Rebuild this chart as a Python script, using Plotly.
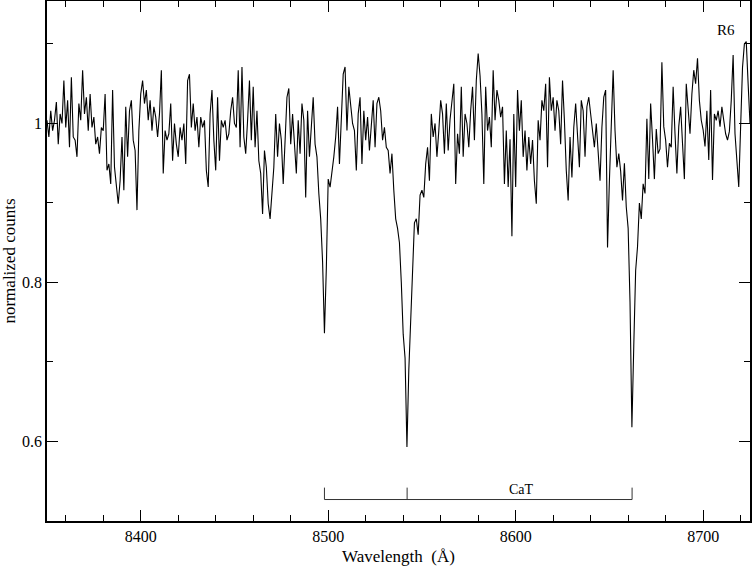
import plotly.graph_objects as go

wavelength = list(range(8350, 8726))
flux = [
    1.004, 0.983, 1.016, 0.991, 1.004, 1.027, 0.974, 1.012, 1.000, 1.054,
    0.995, 1.029, 0.970, 1.058, 0.983, 0.979, 0.958, 1.025, 1.004, 1.067,
    1.012, 1.033, 0.991, 1.037, 0.995, 1.008, 0.974, 0.983, 0.962, 0.995,
    0.991, 1.037, 0.941, 0.949, 0.924, 1.042, 0.945, 0.920, 0.899, 0.928,
    0.983, 0.916, 1.021, 0.958, 1.016, 1.029, 0.979, 0.966, 0.891, 0.991,
    1.037, 1.054, 1.025, 1.042, 1.004, 1.029, 0.991, 1.021, 1.008, 0.983,
    1.012, 1.067, 0.937, 0.991, 0.979, 0.987, 1.025, 0.953, 1.000, 0.974,
    0.958, 0.995, 0.979, 1.000, 0.949, 1.054, 1.062, 0.995, 1.025, 0.991,
    1.008, 0.970, 1.008, 0.995, 1.004, 0.941, 0.920, 1.012, 1.042, 0.979,
    0.941, 1.033, 0.953, 1.004, 0.995, 1.004, 0.979, 0.987, 1.016, 1.033,
    1.000, 0.995, 1.067, 0.970, 1.071, 0.983, 0.962, 1.004, 1.054, 0.979,
    1.046, 0.970, 1.016, 0.953, 0.937, 0.886, 0.966, 0.945, 0.899, 0.880,
    0.920, 0.945, 1.012, 0.958, 1.000, 0.979, 0.924, 0.983, 1.033, 1.044,
    0.974, 1.012, 0.979, 0.937, 1.004, 0.962, 1.025, 1.004, 0.907, 1.016,
    0.958, 0.991, 1.033, 0.974, 0.958, 0.912, 0.880, 0.826, 0.736, 0.818,
    0.930, 0.920, 0.937, 0.958, 0.983, 1.021, 0.949, 1.016, 1.062, 1.071,
    0.991, 1.046, 1.021, 1.000, 0.991, 0.941, 1.012, 1.033, 0.949, 1.016,
    0.979, 1.008, 0.966, 0.995, 1.029, 0.970, 1.025, 1.033, 1.016, 0.979,
    0.995, 0.970, 0.966, 0.937, 0.962, 0.916, 0.880, 0.868, 0.850, 0.800,
    0.735, 0.705, 0.593, 0.690, 0.745, 0.800, 0.875, 0.880, 0.860, 0.910,
    0.916, 0.907, 0.949, 0.970, 0.928, 1.012, 0.983, 1.000, 0.958, 0.991,
    1.029, 1.012, 0.962, 1.025, 0.966, 1.005, 1.033, 1.050, 0.924, 0.987,
    0.962, 1.046, 0.958, 1.012, 1.000, 0.970, 1.016, 1.046, 0.979, 1.054,
    1.088, 1.060, 1.012, 0.924, 1.046, 0.991, 1.008, 0.970, 1.067, 1.004,
    1.042, 1.029, 1.008, 1.021, 0.924, 0.991, 0.920, 0.980, 0.858, 1.012,
    0.920, 1.042, 0.991, 1.029, 0.958, 0.991, 0.941, 0.983, 0.949, 0.979,
    0.928, 0.899, 1.004, 0.979, 1.029, 1.016, 1.050, 0.945, 1.058, 1.016,
    1.033, 0.991, 1.029, 1.016, 0.974, 1.054, 1.004, 0.941, 0.903, 0.983,
    0.932, 0.995, 1.025, 0.983, 0.945, 1.029, 1.016, 0.958, 1.021, 1.033,
    1.012, 0.995, 0.970, 1.000, 0.958, 0.928, 0.995, 1.033, 1.042, 0.844,
    0.928, 1.000, 1.067, 0.991, 0.945, 0.962, 0.940, 0.903, 0.950, 0.895,
    0.868, 0.775, 0.618, 0.720, 0.815, 0.845, 0.900, 0.880, 0.924, 0.912,
    1.006, 0.930, 1.025, 0.980, 0.930, 0.993, 0.962, 0.968, 1.077, 0.996,
    0.979, 0.945, 0.975, 0.970, 1.046, 0.987, 0.937, 0.996, 1.021, 0.975,
    0.930, 1.050, 1.012, 0.987, 1.037, 1.067, 1.050, 1.082, 1.029, 1.004,
    0.992, 0.971, 1.016, 0.954, 1.042, 0.929, 1.012, 1.004, 1.016, 0.996,
    1.021, 1.000, 0.987, 0.979, 0.990, 1.029, 1.086, 0.987, 0.945, 0.920,
    0.996, 1.070, 1.100, 1.103, 1.050, 1.000,
]
assert len(flux) == len(wavelength)

# Ca II triplet lines marked under the spectrum
cat_lines = [8498.0, 8542.1, 8662.1]
cat_label = "CaT"
star_label = "R6"

SERIF = "Liberation Serif, Times New Roman, serif"
bar_lo, bar_hi = 0.527, 0.542

# bracket: horizontal bar with an upward tick at each line
bx, by = [cat_lines[0], cat_lines[-1], None], [bar_lo, bar_lo, None]
for w in cat_lines:
    bx += [w, w, None]
    by += [bar_lo, bar_hi, None]

fig = go.Figure()
fig.add_trace(go.Scatter(x=wavelength, y=flux, mode="lines",
                         line=dict(color="black", width=1.1)))
fig.add_trace(go.Scatter(x=bx, y=by, mode="lines",
                         line=dict(color="#333333", width=1)))

fig.add_annotation(x=(cat_lines[1] + cat_lines[2]) / 2 + 1, y=0.540,
                   text=cat_label, showarrow=False,
                   font=dict(family=SERIF, size=14, color="black"))
fig.add_annotation(x=8712, y=1.118, text=star_label, showarrow=False,
                   font=dict(family=SERIF, size=15, color="black"))

axis_common = dict(
    showgrid=False, zeroline=False, automargin=False,
    showline=True, linecolor="black", linewidth=1.5, mirror="ticks",
    ticks="inside", ticklen=11, tickwidth=1, tickcolor="black",
    tickfont=dict(family=SERIF, size=16, color="black"),
)

fig.update_layout(
    width=753, height=567,
    margin=dict(l=47, r=3, t=1, b=46),
    font=dict(family=SERIF, color="black"),
    paper_bgcolor="white", plot_bgcolor="white",
    showlegend=False,
    xaxis=dict(range=[8350, 8725], dtick=100, tick0=8400,
               minor=dict(ticks="inside", ticklen=6, dtick=20,
                          tickcolor="black"),
               title=dict(text="Wavelength  (Å)", standoff=6,
                          font=dict(family=SERIF, size=17, color="black")),
               **axis_common),
    yaxis=dict(range=[0.5, 1.154], dtick=0.2, tick0=0,
               minor=dict(ticks="inside", ticklen=6, dtick=0.1,
                          tickcolor="black"),
               title=dict(text="normalized counts", standoff=6,
                          font=dict(family=SERIF, size=17, color="black")),
               **axis_common),
)

# drop the browser's default page margin so the figure sits at (0, 0)
fig.write_html("out.html",
               config={"displayModeBar": False},
               post_script="document.body.style.margin='0';"
                           "document.body.style.overflow='hidden';")
